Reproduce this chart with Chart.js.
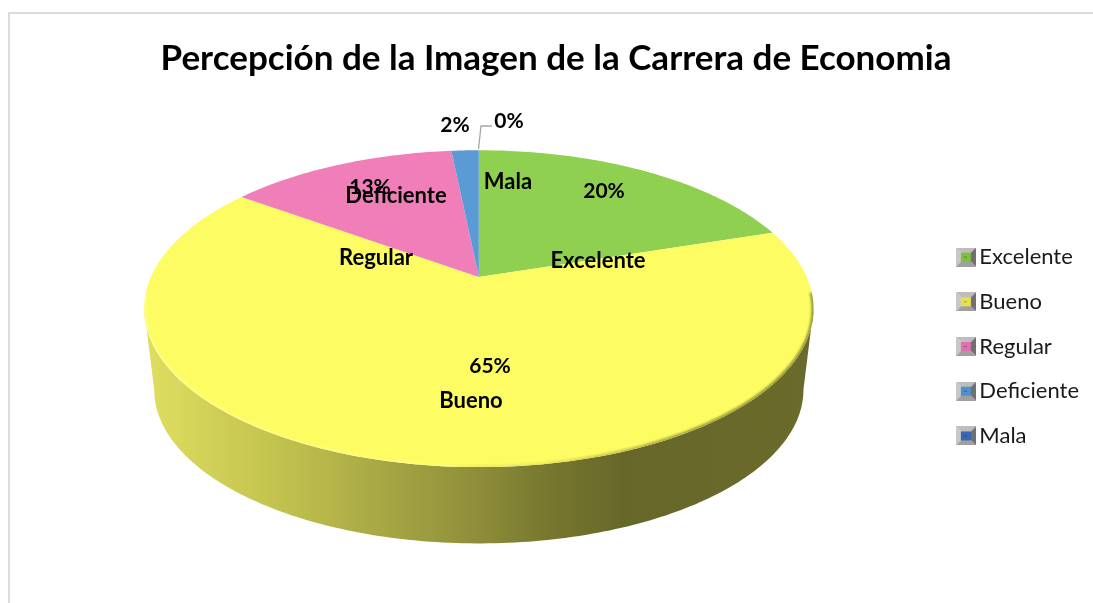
<!DOCTYPE html>
<html><head><meta charset="utf-8">
<style>
html,body{margin:0;padding:0;background:#fff;overflow:hidden;width:1093px;height:603px}
#frame{position:absolute;left:8px;top:12px;right:0;bottom:0;border-left:2px solid #dcdcdc;border-top:2px solid #dcdcdc}
#c{position:absolute;left:0;top:0}
</style>
<script src="https://cdn.jsdelivr.net/npm/chart.js@4/dist/chart.umd.min.js"></script>
</head><body><div id="frame"></div><canvas id="c" width="1093" height="693"></canvas>
<script>
const categories = ["Excelente","Bueno","Regular","Deficiente","Mala"];
const percentages = [20,65,13.4,1.6,0];
const sliceColors = ["#90d050","#fdfc62","#f07fb9","#5b9bd5","#4472c4"];
const chartTitle = "Percepción de la Imagen de la Carrera de Economia";

// Label anchors (screen px, text centre)
const valueLabelPos = [[604,191],[490,366],[370,187],[455,125],[509,121]];
const nameLabelPos  = [[598,261],[471,401],[376,258],[396,196],[508,182]];

// Tilted-pie look
const PERSP = 0.2, X_STRETCH = 1.121, Y_STRETCH = 0.52, DX = -3, DY = -123.5;
const SIDE_DEPTH = 82, SIDE_SCALE = 0.97;

function project(el, a, lower){
  const cx = el.x + DX, cy = el.y + DY;
  const rx = el.outerRadius * X_STRETCH, ry = el.outerRadius * Y_STRETCH;
  const u = Math.cos(a), v = Math.sin(a), w = 1 - PERSP * v;
  const s = lower ? SIDE_SCALE : 1;
  return [cx + s * rx * u / w, cy + (lower ? SIDE_DEPTH : 0) + s * ry * v / w];
}
function arcPath(ctx, el, a0, a1, lower, start){
  const n = Math.max(4, Math.ceil(Math.abs(a1 - a0) * 60));
  for (let i = 0; i <= n; i++){
    const p = project(el, a0 + (a1 - a0) * i / n, lower);
    if (i === 0 && start) ctx.moveTo(p[0], p[1]); else ctx.lineTo(p[0], p[1]);
  }
}
function legendIcon(color){
  const c = document.createElement('canvas'); c.width = 20; c.height = 19;
  const g = c.getContext('2d');
  const tri = (col, pts) => { g.fillStyle = col; g.beginPath(); pts.forEach((p,i)=> i?g.lineTo(p[0],p[1]):g.moveTo(p[0],p[1])); g.fill(); };
  tri('#bdbdbd',[[0,0],[20,0],[14,6],[6,6]]);
  tri('#c8c8c8',[[0,0],[6,6],[6,13],[0,19]]);
  tri('#707070',[[20,0],[14,6],[14,13],[20,19]]);
  tri('#a0a0a0',[[0,19],[6,13],[14,13],[20,19]]);
  g.fillStyle = color; g.fillRect(5,5,10,9);
  g.fillStyle = 'rgba(0,0,0,.3)'; g.fillRect(8,9,3,1);
  return c;
}
const iconColors = ["#7cc040","#e8e050","#e070b0","#5090cc","#3a66b4"];

const tiltPlugin = {
  id:'tilt',
  beforeDatasetsDraw(chart){
    const ctx = chart.ctx, meta = chart.getDatasetMeta(0);
    const el = meta.data[0], a0 = Math.asin(PERSP), a1 = Math.PI - a0;
    // side wall
    ctx.save();
    const g = ctx.createLinearGradient(143,0,813,0);
    [[0,'#dede60'],[0.05,'#d8d85c'],[0.24,'#bcbc4c'],[0.5,'#8e8e3a'],[0.6,'#78782f'],[0.72,'#67672a'],[1,'#6a6a2b']]
      .forEach(s=>g.addColorStop(s[0],s[1]));
    ctx.fillStyle = g;
    ctx.beginPath();
    arcPath(ctx, el, a0, a0, false, true);
    arcPath(ctx, el, a0, a1, true, false);
    arcPath(ctx, el, a1, a0, false, false);
    ctx.closePath(); ctx.fill();
    ctx.restore();
    // slices: library-computed angles, projected
    meta.data.forEach((arc,i)=>{
      arc.draw = function(c){
        if (this.endAngle - this.startAngle < 1e-4) return;
        c.save();
        c.fillStyle = sliceColors[i];
        c.beginPath();
        c.moveTo(this.x + DX, this.y + DY);
        arcPath(c, this, this.startAngle, this.endAngle, false, false);
        c.closePath(); c.fill();
        c.restore();
      };
    });
  },
  afterDatasetsDraw(chart){
    const ctx = chart.ctx, el = chart.getDatasetMeta(0).data[0];
    const a0 = Math.asin(PERSP)-0.1, a1 = Math.PI - a0;
    ctx.save();
    // soft bevel along the front rim, kept inside the top surface
    ctx.save();
    ctx.beginPath();
    arcPath(ctx, el, 0, Math.PI*2, false, true);
    ctx.closePath(); ctx.clip();
    const g = ctx.createLinearGradient(143,0,813,0);
    g.addColorStop(0,'rgba(255,255,150,.7)');
    g.addColorStop(0.45,'rgba(255,255,150,.4)');
    g.addColorStop(0.6,'rgba(120,120,40,.12)');
    g.addColorStop(0.8,'rgba(110,110,40,.65)');
    g.addColorStop(1,'rgba(110,110,40,.75)');
    ctx.strokeStyle = g; ctx.lineWidth = 4; ctx.lineJoin='round';
    ctx.filter = 'blur(1.2px)';
    ctx.beginPath();
    arcPath(ctx, el, a0, a1, false, true);
    ctx.stroke();
    ctx.restore();
    // data labels
    ctx.fillStyle = '#000';
    ctx.textAlign = 'center'; ctx.textBaseline = 'middle';
    ctx.font = 'bold 21px Lato';
    percentages.forEach((v,i)=> ctx.fillText(Math.round(v)+'%', valueLabelPos[i][0], valueLabelPos[i][1]));
    ctx.font = 'bold 22px Lato';
    categories.forEach((n,i)=> ctx.fillText(n, nameLabelPos[i][0], nameLabelPos[i][1]));
    // leader line
    ctx.strokeStyle = '#a6a6a6'; ctx.lineWidth = 1.3;
    ctx.beginPath(); ctx.moveTo(492,126); ctx.lineTo(481,126); ctx.lineTo(478.5,149); ctx.stroke();
    ctx.restore();
  }
};

new Chart(document.getElementById('c'),{
  type:'pie',
  plugins:[tiltPlugin],
  data:{labels:categories,datasets:[{data:percentages,backgroundColor:sliceColors,borderWidth:0}]},
  options:{
    responsive:false,animation:false,
    layout:{padding:{left:23,right:4}},
    plugins:{
      tooltip:{enabled:false},
      title:{display:true,text:chartTitle,color:'#000',font:{family:'Lato',size:35,weight:'bold'},padding:{top:38,bottom:28}},
      legend:{position:'right',align:'center',
        labels:{font:{family:'Lato',size:22},color:'#1a1a1a',padding:22.7,usePointStyle:true,pointStyleWidth:5,
          generateLabels(chart){
            return categories.map((t,i)=>({text:t,pointStyle:legendIcon(iconColors[i]),fontColor:'#1a1a1a',lineWidth:0,index:i,hidden:false}));
          }}}
    }
  }
});
</script></body></html>
